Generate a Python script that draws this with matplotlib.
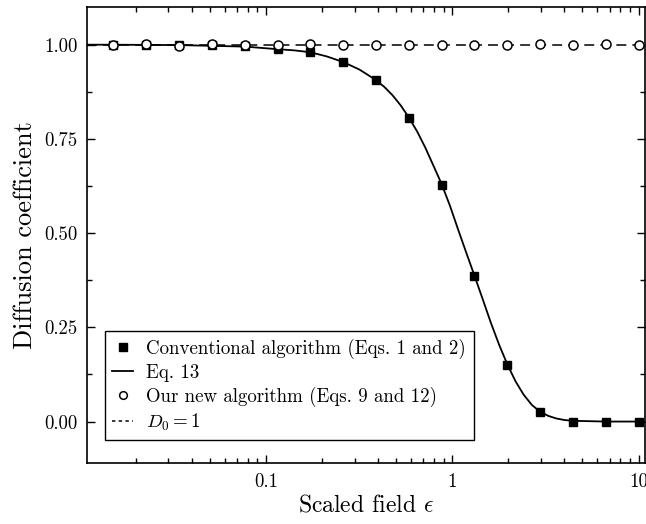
import matplotlib
matplotlib.use('Agg')
import matplotlib.pyplot as plt
from matplotlib.ticker import FixedLocator, FormatStrFormatter, LogLocator, NullFormatter

plt.rcParams['font.family'] = ['cmr10', 'DejaVu Serif']
plt.rcParams['mathtext.fontset'] = 'cm'
plt.rcParams['axes.unicode_minus'] = False

# Scaled field values where the simulations were run.
eps = [0.0152, 0.0228, 0.0343, 0.0514, 0.0771, 0.116, 0.173, 0.260, 0.390,
       0.585, 0.878, 1.317, 1.975, 2.963, 4.444, 6.667, 10.0]

# Conventional algorithm (filled squares).
D_conventional = [1.000, 1.000, 1.000, 0.999, 0.997, 0.988, 0.981, 0.954, 0.907,
                  0.806, 0.629, 0.386, 0.151, 0.025, 0.000, 0.000, 0.000]

# New algorithm (open circles).
D_new = [1.000, 1.002, 0.997, 1.002, 1.000, 0.999, 1.001, 1.000, 0.999,
         1.000, 0.999, 1.000, 0.999, 1.001, 1.000, 1.002, 1.000]

# Eq. 13 curve.
eps_curve = [0.0110, 0.0152, 0.0343, 0.0771, 0.116, 0.142, 0.173, 0.212, 0.260,
             0.318, 0.390, 0.432, 0.478, 0.529, 0.585, 0.648, 0.717, 0.793,
             0.878, 0.972, 1.075, 1.190, 1.317, 1.457, 1.613, 1.785, 1.975,
             2.186, 2.420, 2.678, 2.963, 3.280, 3.630, 4.017, 4.444, 6.667,
             10.0, 11.0]
D_curve = [1.000, 1.000, 0.999, 0.995, 0.988, 0.985, 0.980, 0.969, 0.954,
           0.934, 0.906, 0.888, 0.866, 0.839, 0.807, 0.770, 0.727, 0.679,
           0.630, 0.573, 0.510, 0.448, 0.387, 0.325, 0.262, 0.204, 0.152,
           0.107, 0.071, 0.044, 0.026, 0.015, 0.008, 0.004, 0.002, 0.000,
           0.000, 0.000]

D0 = 1.0

fig = plt.figure(figsize=(6.46, 5.24), dpi=100)
ax = fig.add_axes([0.1347, 0.1164, 0.8645, 0.8702])

ax.plot(eps, D_conventional, ls='none', marker='s', color='black', ms=6.2,
        label='Conventional algorithm (Eqs. 1 and 2)', zorder=3)
ax.plot(eps_curve, D_curve, color='black', lw=1.3, label='Eq. 13', zorder=2)
ax.plot(eps, D_new, ls='none', marker='o', mfc='white', mec='black', mew=1.1, ms=6.5,
        label='Our new algorithm (Eqs. 9 and 12)', zorder=4)
dash = ax.axhline(D0, color='black', lw=1.1, ls='--', label='$D_0 = 1$', zorder=1)
dash.set_dashes((6.5, 4))

ax.set_xscale('log')
ax.set_xlim(0.01096, 10.9)
ax.set_ylim(-0.11, 1.10)

ax.xaxis.set_major_locator(FixedLocator([0.1, 1, 10]))
ax.xaxis.set_major_formatter(FormatStrFormatter('%g'))
ax.xaxis.set_minor_locator(LogLocator(base=10, subs=range(2, 10)))
ax.xaxis.set_minor_formatter(NullFormatter())
ax.yaxis.set_major_locator(FixedLocator([0.0, 0.25, 0.5, 0.75, 1.0]))
ax.yaxis.set_minor_locator(FixedLocator([0.125, 0.375, 0.625, 0.875]))
ax.yaxis.set_major_formatter(FormatStrFormatter('%.2f'))

ax.tick_params(which='both', direction='in', top=True, right=True, width=1.0)
ax.tick_params(which='major', length=6, labelsize=13.5, pad=7)
ax.tick_params(which='minor', length=3.5)
for s in ax.spines.values():
    s.set_linewidth(1.2)

ax.set_xlabel(r'Scaled field $\epsilon$', fontsize=17, labelpad=3)
ax.set_ylabel('Diffusion coefficient', fontsize=19, labelpad=5)

leg = ax.legend(loc='lower left', bbox_to_anchor=(0.032, 0.05), borderaxespad=0,
                fontsize=13.6, frameon=True, fancybox=False, framealpha=1,
                edgecolor='black', handlelength=1.1, handletextpad=0.7,
                labelspacing=0.25, borderpad=0.4, markerscale=0.85)
leg.get_frame().set_linewidth(1.0)
leg.get_lines()[3].set_dashes((2.2, 2.2))

fig.savefig('out.png', dpi=100)
